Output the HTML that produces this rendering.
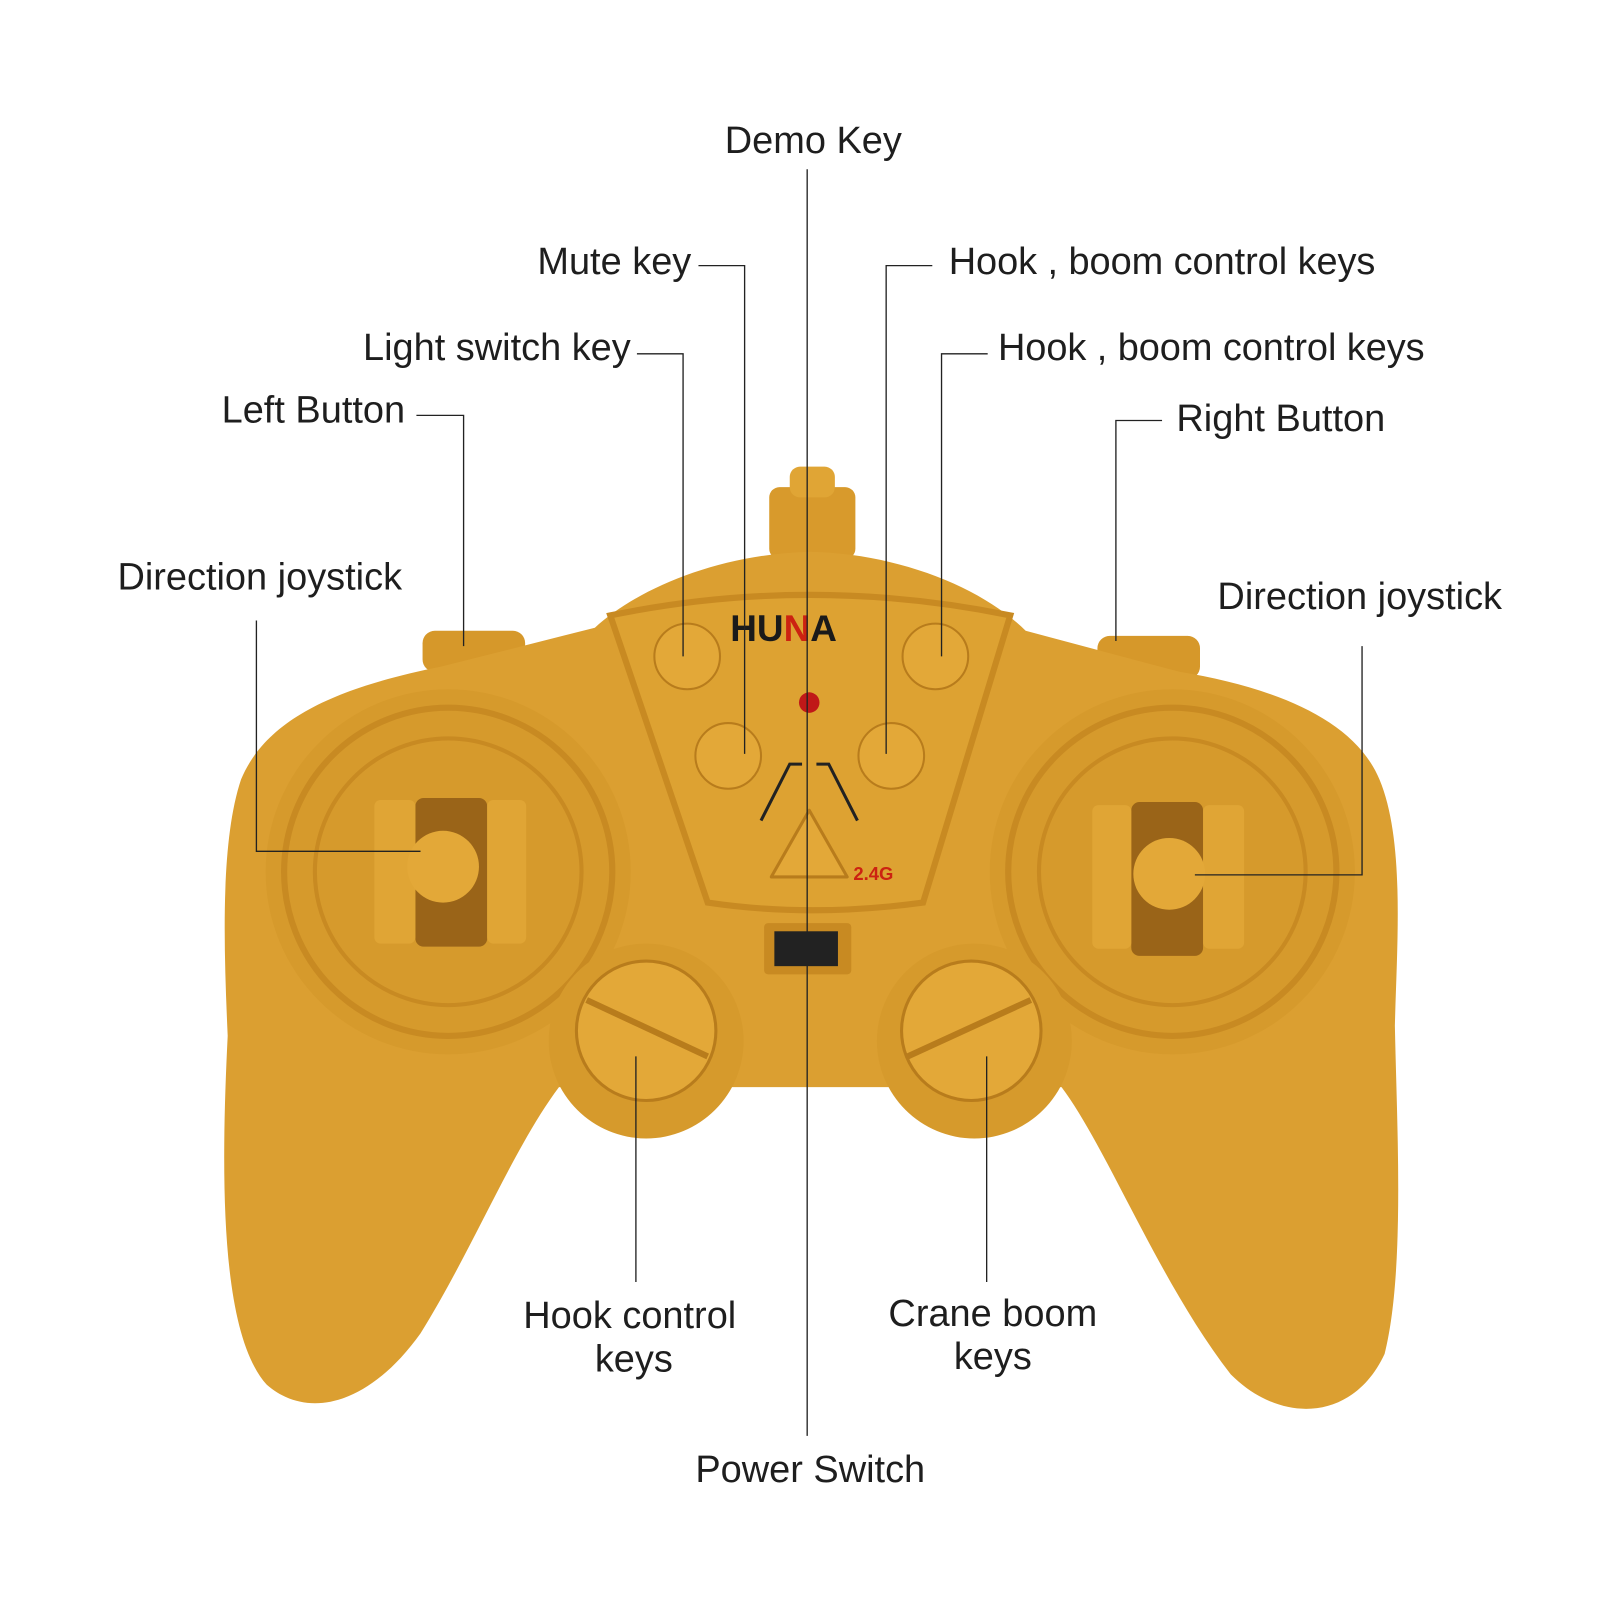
<!DOCTYPE html>
<html><head><style>
html,body{margin:0;padding:0;background:#fff;}
svg{display:block}
text{font-family:"Liberation Sans",sans-serif;font-size:37px;fill:#1e1e1e;}
</style></head><body>
<svg width="1600" height="1600" viewBox="0 0 1560 1560">
<rect width="1560" height="1560" fill="#fff"/>
<!-- antenna -->
<rect x="750" y="475" width="84" height="70" rx="10" fill="#D89A2C"/>
<rect x="770" y="455" width="44" height="30" rx="10" fill="#E0A535"/>
<!-- shoulder buttons -->
<rect x="412" y="615" width="100" height="40" rx="12" fill="#D6982A"/>
<rect x="1070" y="620" width="100" height="42" rx="12" fill="#D6982A"/>
<!-- body -->
<path d="M430,650 C330,670 260,700 235,760 C215,820 218,920 222,1010 C215,1150 215,1300 260,1350 C300,1385 360,1370 410,1300 C460,1220 500,1120 545,1060 L1035,1060 C1080,1120 1130,1250 1200,1340 C1250,1390 1320,1385 1350,1320 C1370,1240 1362,1100 1360,1000 C1362,920 1370,820 1345,760 C1320,700 1240,670 1150,655 L1000,615 C960,575 880,540 790,538 C700,540 620,575 580,612 Z" fill="#DB9F31"/>
<!-- joystick pads -->
<circle cx="437" cy="850" r="178" fill="#D69A2C"/>
<circle cx="437" cy="850" r="160" fill="none" stroke="#C88A22" stroke-width="6"/>
<circle cx="437" cy="850" r="130" fill="none" stroke="#C88A22" stroke-width="4"/>
<circle cx="1143" cy="850" r="178" fill="#D69A2C"/>
<circle cx="1143" cy="850" r="160" fill="none" stroke="#C88A22" stroke-width="6"/>
<circle cx="1143" cy="850" r="130" fill="none" stroke="#C88A22" stroke-width="4"/>
<!-- joystick slots -->
<rect x="405" y="778" width="70" height="145" rx="8" fill="#9A6418"/>
<rect x="1103" y="782" width="70" height="150" rx="8" fill="#9A6418"/>
<rect x="365" y="780" width="40" height="140" rx="6" fill="#E0A535"/>
<rect x="475" y="780" width="38" height="140" rx="6" fill="#E0A535"/>
<rect x="1065" y="785" width="38" height="140" rx="6" fill="#E0A535"/>
<rect x="1173" y="785" width="40" height="140" rx="6" fill="#E0A535"/>
<circle cx="432" cy="845" r="35" fill="#E3A838"/>
<circle cx="1140" cy="852" r="35" fill="#E3A838"/>
<!-- center panel -->
<path d="M595,600 Q790,560 985,600 L900,880 Q790,895 690,880 Z" fill="#DDA232" stroke="#C88A22" stroke-width="6"/>
<text x="712" y="625" style="font-weight:bold;font-size:36px;fill:#1a1a1a">HU<tspan fill="#c21">N</tspan>A</text>
<circle cx="670" cy="640" r="32" fill="#E3A838" stroke="#B87C1C" stroke-width="2"/>
<circle cx="912" cy="640" r="32" fill="#E3A838" stroke="#B87C1C" stroke-width="2"/>
<circle cx="710" cy="737" r="32" fill="#E3A838" stroke="#B87C1C" stroke-width="2"/>
<circle cx="869" cy="737" r="32" fill="#E3A838" stroke="#B87C1C" stroke-width="2"/>
<circle cx="789" cy="685" r="10" fill="#c01818"/>
<path d="M752,855 L789,790 L826,855 Z" fill="#E3A838" stroke="#B87C1C" stroke-width="3" stroke-linejoin="round"/>
<path d="M742,800 L770,745 L782,745 M836,800 L808,745 L796,745" fill="none" stroke="#222" stroke-width="3"/>
<text x="832" y="858" style="font-size:18px;font-weight:bold;fill:#c21">2.4G</text>
<!-- switch -->
<rect x="745" y="900" width="85" height="50" rx="4" fill="#C88A22"/>
<rect x="755" y="908" width="62" height="34" fill="#222"/>
<!-- bottom buttons -->
<circle cx="630" cy="1015" r="95" fill="#D69A2C"/>
<circle cx="950" cy="1015" r="95" fill="#D69A2C"/>
<circle cx="630" cy="1005" r="68" fill="#E3A838" stroke="#B87C1C" stroke-width="3"/>
<circle cx="947" cy="1005" r="68" fill="#E3A838" stroke="#B87C1C" stroke-width="3"/>
<line x1="572" y1="975" x2="690" y2="1030" stroke="#B87C1C" stroke-width="6"/>
<line x1="885" y1="1030" x2="1005" y2="975" stroke="#B87C1C" stroke-width="6"/>
<!-- leader lines -->
<g stroke="#222" stroke-width="1.3" fill="none">
<line x1="787" y1="165" x2="787" y2="1400"/>
<polyline points="681,259 726,259 726,735"/>
<polyline points="621,345 666,345 666,640"/>
<polyline points="406,405 452,405 452,630"/>
<polyline points="250,605 250,830 410,830"/>
<polyline points="909,259 864,259 864,735"/>
<polyline points="963,345 918,345 918,640"/>
<polyline points="1133,410 1088,410 1088,625"/>
<polyline points="1328,630 1328,853 1165,853"/>
<line x1="620" y1="1030" x2="620" y2="1250"/>
<line x1="962" y1="1030" x2="962" y2="1250"/>
</g>
<!-- labels -->
<text x="793" y="149" text-anchor="middle">Demo Key</text>
<text x="674" y="267" text-anchor="end">Mute key</text>
<text x="615" y="351" text-anchor="end">Light switch key</text>
<text x="395" y="412" text-anchor="end">Left Button</text>
<text x="392" y="575" text-anchor="end">Direction joystick</text>
<text x="925" y="267" textLength="416">Hook , boom control keys</text>
<text x="973" y="351" textLength="416">Hook , boom control keys</text>
<text x="1147" y="420">Right Button</text>
<text x="1187" y="594">Direction joystick</text>
<text x="614" y="1295" text-anchor="middle">Hook control</text>
<text x="618" y="1337" text-anchor="middle">keys</text>
<text x="968" y="1293" text-anchor="middle">Crane boom</text>
<text x="968" y="1335" text-anchor="middle">keys</text>
<text x="790" y="1445" text-anchor="middle">Power Switch</text>
</svg>
</body></html>
